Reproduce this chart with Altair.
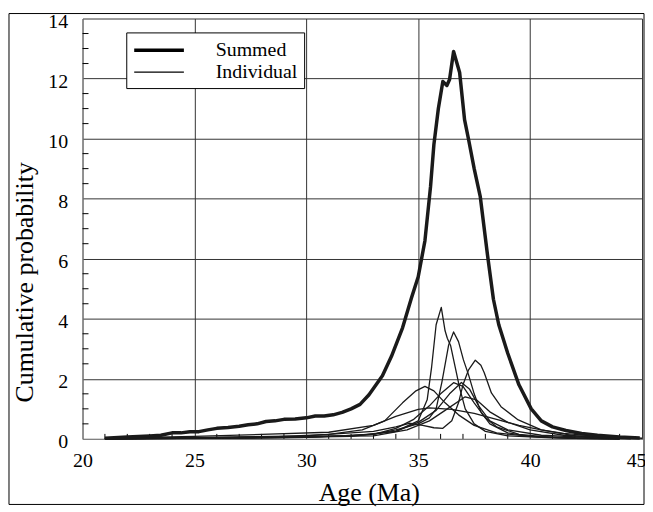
import altair as alt
import pandas as pd

# ---- data ----
summed_age = [21.0, 22.0, 23.0, 23.5, 24.0, 24.4, 24.8, 25.2, 25.6, 26.0, 26.5, 27.0, 27.4, 27.8,
              28.2, 28.6, 29.0, 29.5, 30.0, 30.4, 30.8, 31.2, 31.6, 32.0, 32.4, 32.8, 33.4, 33.8,
              34.3, 34.7, 35.0, 35.3, 35.55, 35.7, 35.9, 36.1, 36.28, 36.4, 36.58, 36.85, 37.07,
              37.25, 37.5, 37.77, 38.1, 38.36, 38.6, 39.0, 39.5, 40.05, 40.5, 41.0, 41.6, 42.3,
              43.0, 44.0, 44.9]
summed_val = [0.02, 0.06, 0.1, 0.12, 0.2, 0.2, 0.24, 0.24, 0.3, 0.35, 0.38, 0.42, 0.47, 0.5,
              0.58, 0.6, 0.65, 0.66, 0.7, 0.76, 0.76, 0.8, 0.88, 1.0, 1.15, 1.47, 2.1, 2.74,
              3.7, 4.7, 5.4, 6.6, 8.4, 9.8, 11.0, 11.9, 11.77, 11.97, 12.9, 12.2, 10.63,
              9.97, 9.0, 8.08, 6.1, 4.65, 3.8, 2.85, 1.8, 1.0, 0.6, 0.4, 0.28, 0.18,
              0.12, 0.06, 0.03]

ind1_age = [21, 28, 32, 34, 35, 35.4, 35.6, 35.8, 36.03, 36.2, 36.3, 36.45, 36.65, 36.85, 37.1, 37.5, 38, 39, 41, 44]
ind1_val = [0.0, 0.03, 0.08, 0.25, 0.6, 1.3, 2.4, 3.8, 4.38, 3.6, 3.35, 3.1, 2.4, 1.7, 1.0, 0.5, 0.25, 0.1, 0.03, 0.0]

ind2_age = [21, 30, 33, 34, 35, 35.5, 35.8, 36.06, 36.36, 36.58, 36.8, 37.02, 37.25, 37.5, 37.8, 38.2, 39, 40, 42, 44]
ind2_val = [0.0, 0.05, 0.15, 0.3, 0.5, 0.7, 1.0, 1.9, 3.13, 3.56, 3.24, 2.63, 2.13, 1.5, 0.9, 0.5, 0.2, 0.08, 0.02, 0.0]

ind3_age = [21, 30, 33, 34, 34.6, 35.2, 35.7, 36.1, 36.5, 36.8, 37.0, 37.25, 37.55, 37.8, 37.95, 38.27, 38.7, 39.47, 40.5, 42, 44]
ind3_val = [0.0, 0.1, 0.25, 0.4, 0.52, 0.45, 0.37, 0.35, 0.6, 1.2, 1.8, 2.3, 2.62, 2.45, 2.2, 1.53, 1.07, 0.63, 0.3, 0.1, 0.02]

ind4_age = [21, 28, 31, 32.5, 33.5, 34.3, 34.9, 35.3, 35.7, 36.2, 36.8, 37.5, 38.5, 40, 42, 44]
ind4_val = [0.0, 0.05, 0.15, 0.3, 0.6, 1.2, 1.6, 1.75, 1.6, 1.2, 0.8, 0.45, 0.2, 0.08, 0.02, 0.0]

ind5_age = [21, 30, 33, 34, 34.8, 35.5, 36.0, 36.58, 37.0, 37.5, 38.0, 38.5, 39.5, 41, 44]
ind5_val = [0.0, 0.05, 0.15, 0.35, 0.65, 1.1, 1.5, 1.87, 1.75, 1.2, 0.7, 0.4, 0.15, 0.05, 0.0]

ind6_age = [21, 32, 34, 35, 35.8, 36.4, 36.93, 37.3, 37.7, 38.2, 39, 40.5, 43, 44.5]
ind6_val = [0.0, 0.1, 0.25, 0.55, 0.95, 1.5, 1.88, 1.65, 1.1, 0.6, 0.3, 0.12, 0.03, 0.0]

ind7_age = [21, 25, 28, 31, 33, 34, 35, 35.5, 36.5, 37.5, 38.5, 39.5, 40.5, 41.5, 43, 45]
ind7_val = [0.02, 0.08, 0.15, 0.22, 0.45, 0.75, 0.98, 1.03, 0.98, 0.85, 0.65, 0.45, 0.3, 0.18, 0.08, 0.02]

ind8_age = [21, 33, 34.5, 35.5, 36.3, 37.1, 37.6, 38.2, 39, 40, 41.5, 44]
ind8_val = [0.0, 0.1, 0.3, 0.6, 1.0, 1.4, 1.3, 0.9, 0.55, 0.3, 0.12, 0.02]

series_names = ["Summed", "Individual"]
x_ticks_major = [20, 25, 30, 35, 40, 45]
y_ticks_major = [0, 2, 4, 6, 8, 10, 12, 14]
x_ticks_minor = [21, 22, 23, 24, 26, 27, 28, 29, 31, 32, 33, 34, 36, 37, 38, 39, 41, 42, 43, 44]
y_ticks_minor = [0.5, 1, 1.5, 2.5, 3, 3.5, 4.5, 5, 5.5, 6.5, 7, 7.5, 8.5, 9, 9.5,
                 10.5, 11, 11.5, 12.5, 13, 13.5]

# ---- build tables ----
rows = []
for a, v in zip(summed_age, summed_val):
    rows.append({"curve": "S", "type": "Summed", "age": a, "value": v})
individuals = [(ind1_age, ind1_val), (ind2_age, ind2_val), (ind3_age, ind3_val),
               (ind4_age, ind4_val), (ind5_age, ind5_val), (ind6_age, ind6_val),
               (ind7_age, ind7_val), (ind8_age, ind8_val)]
for i, (ages, vals) in enumerate(individuals):
    for a, v in zip(ages, vals):
        rows.append({"curve": f"I{i+1}", "type": "Individual", "age": a, "value": v})
df = pd.DataFrame(rows)
df_sum = df[df["type"] == "Summed"]
df_ind = df[df["type"] == "Individual"]

FONT = "Liberation Serif, Times New Roman, serif"
W, H = 563, 423

xscale = alt.Scale(domain=[20, 45], nice=False, zero=False)
yscale = alt.Scale(domain=[0, 14], nice=False, zero=True)

xaxis = alt.Axis(values=x_ticks_major, title="Age (Ma)", grid=True, tickSize=0,
                 labelPadding=12, labelFontSize=20, titleFontSize=26,
                 titleX=288, titleY=62, titleBaseline="alphabetic", titleAlign="center",
                 labelFont=FONT, titleFont=FONT, titleFontWeight="normal",
                 labelColor="black", titleColor="black",
                 gridColor="#333333", gridWidth=1, domainColor="#888888",
                 labelFlush=False,
                 labelAlign={"condition": {"test": "datum.value == 45", "value": "right"},
                             "value": "center"},
                 labelOffset={"condition": {"test": "datum.value == 45", "value": 4},
                              "value": 0})
yaxis = alt.Axis(values=y_ticks_major, title="Cumulative probability", grid=True, tickSize=0,
                 labelPadding=15, labelFontSize=20, titleFontSize=26, titlePadding=10,
                 titleY=265, titleAngle=270, titleAlign="center",
                 labelOffset=3,
                 labelFont=FONT, titleFont=FONT, titleFontWeight="normal",
                 labelColor="black", titleColor="black",
                 gridColor="#333333", gridWidth=1, domainColor="#888888",
                 labelFlush=False)

sw = alt.StrokeWidth("type:N",
                     scale=alt.Scale(domain=series_names, range=[3.5, 1.3]),
                     legend=alt.Legend(title=None, orient="none", legendX=44, legendY=14,
                                       symbolType="M-1,0H4", symbolSize=400,
                                       symbolStrokeColor="black", symbolFillColor="transparent",
                                       labelFont=FONT,
                                       labelFontSize=20, labelColor="black",
                                       labelOffset=60, padding=6, rowPadding=1,
                                       strokeColor="black", fillColor="white",
                                       cornerRadius=0))

base_grid = alt.Chart(pd.DataFrame({"age": [20], "value": [0]})).mark_point(opacity=0).encode(
    x=alt.X("age:Q", scale=xscale, axis=xaxis),
    y=alt.Y("value:Q", scale=yscale, axis=yaxis),
)

ind_lines = alt.Chart(df_ind).mark_line(color="#1a1a1a", strokeJoin="round").encode(
    x=alt.X("age:Q", scale=xscale),
    y=alt.Y("value:Q", scale=yscale),
    detail="curve:N",
    strokeWidth=sw,
)
sum_lines = alt.Chart(df_sum).mark_line(color="#1a1a1a", strokeJoin="round").encode(
    x=alt.X("age:Q", scale=xscale),
    y=alt.Y("value:Q", scale=yscale),
    detail="curve:N",
    strokeWidth=sw,
)

xt = alt.Chart(pd.DataFrame({"age": x_ticks_minor})).mark_rule(color="black", strokeWidth=1).encode(
    x=alt.X("age:Q", scale=xscale),
    y=alt.value(H),
    y2=alt.value(H - 5),
)
yt = alt.Chart(pd.DataFrame({"value": y_ticks_minor})).mark_rule(color="black", strokeWidth=1).encode(
    y=alt.Y("value:Q", scale=yscale),
    x=alt.value(0),
    x2=alt.value(6),
)

frame = alt.Chart(pd.DataFrame({"k": [0]})).mark_rect(filled=False, stroke="black",
                                                       strokeWidth=1).encode(
    x=alt.value(-74), x2=alt.value(W + 2), y=alt.value(-5), y2=alt.value(H + 66),
)

chart = alt.layer(frame, base_grid, xt, yt, ind_lines, sum_lines).properties(
    width=W, height=H,
    padding={"left": 75, "top": 9, "right": 3, "bottom": 68},
    autosize=alt.AutoSizeParams(type="none"),
    background="white",
).configure_view(stroke=None)

chart.save("out.html", embed_options={"renderer": "svg", "actions": False})
